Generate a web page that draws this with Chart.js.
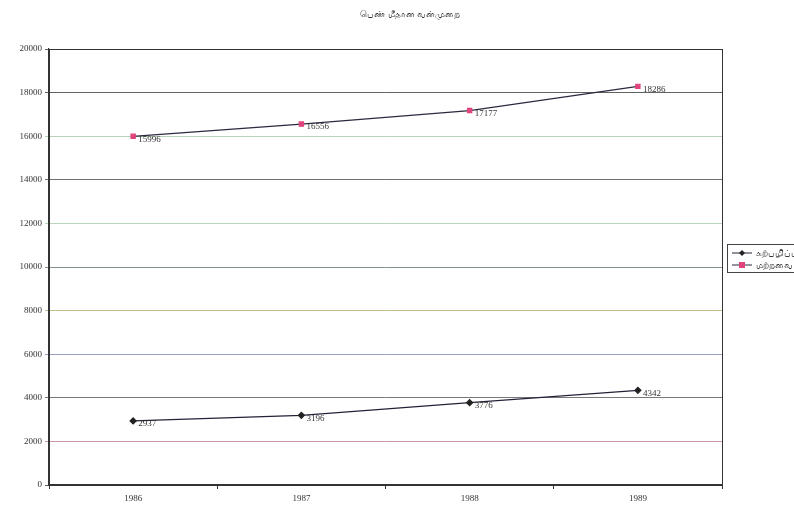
<!DOCTYPE html>
<html>
<head>
<meta charset="utf-8">
<script src="https://cdn.jsdelivr.net/npm/chart.js@4/dist/chart.umd.min.js"></script>
<style>
  body { margin: 0; background: #fff; }
  #wrap { width: 794px; height: 508px; }
</style>
</head>
<body>
<div id="wrap"><canvas id="lineChart"></canvas></div>
<script>
const title = "பெண் மீதான வன்முறை";
const years = ["1986", "1987", "1988", "1989"];
const seriesNames = ["கற்பழிப்பு", "மற்றவை"];
const rapeCases = [2937, 3196, 3776, 4342];
const otherCases = [15996, 16556, 17177, 18286];
const yTicks = [0, 2000, 4000, 6000, 8000, 10000, 12000, 14000, 16000, 18000, 20000];

// scanned page: every gridline came out a slightly different tint
const gridTints = ["#333", "#c07a98", "#555", "#7e86b0", "#b0b070", "#66766a", "#a8cca8", "#4a4a4a", "#a6c8a6", "#3a3a3a", "#333"];
const serif = "'Liberation Serif', 'DejaVu Serif', serif";

const paperPlugin = {
  id: "paper",
  afterDraw(chart) {
    const c = chart.ctx;
    const a = chart.chartArea;
    c.save();

    // frame (top + right edges)
    c.strokeStyle = "#333";
    c.lineWidth = 1;
    c.strokeRect(a.left + 0.5, a.top + 0.5, a.right - a.left, a.bottom - a.top);

    // title
    c.fillStyle = "#333";
    c.font = "9px " + serif;
    c.textAlign = "center";
    c.textBaseline = "middle";
    c.fillText(title, 410, 15);

    // value labels right of each point
    c.font = "9px " + serif;
    c.textAlign = "left";
    chart.data.datasets.forEach((ds, i) => {
      chart.getDatasetMeta(i).data.forEach((pt, j) => {
        c.fillText(String(ds.data[j]), pt.x + 5, pt.y + 3);
      });
    });

    // legend box, cut by the page edge like the scan
    const lx = 727, ly = 244;
    c.strokeStyle = "#444";
    c.strokeRect(lx + 0.5, ly + 0.5, 80, 28);
    chart.data.datasets.forEach((ds, i) => {
      const y = ly + 9 + i * 12;
      c.strokeStyle = ds.borderColor;
      c.beginPath();
      c.moveTo(lx + 5, y);
      c.lineTo(lx + 25, y);
      c.stroke();
      c.fillStyle = ds.pointBackgroundColor;
      c.beginPath();
      if (ds.pointStyle === "rectRot") {
        c.moveTo(lx + 15, y - 3);
        c.lineTo(lx + 18, y);
        c.lineTo(lx + 15, y + 3);
        c.lineTo(lx + 12, y);
      } else {
        c.rect(lx + 12, y - 3, 6, 6);
      }
      c.fill();
      c.fillStyle = "#333";
      c.font = "9px " + serif;
      c.fillText(ds.label, lx + 29, y + 1);
    });
    c.restore();
  }
};

new Chart(document.getElementById("lineChart"), {
  type: "line",
  data: {
    labels: years,
    datasets: [
      {
        label: seriesNames[0],
        data: rapeCases,
        borderColor: "#222238",
        borderWidth: 1.2,
        pointStyle: "rectRot",
        pointRadius: 3,
        pointBackgroundColor: "#222",
        pointBorderColor: "#222",
        tension: 0
      },
      {
        label: seriesNames[1],
        data: otherCases,
        borderColor: "#2a2a40",
        borderWidth: 1.2,
        pointStyle: "rect",
        pointRadius: 3,
        pointBackgroundColor: "#e0447c",
        pointBorderColor: "#e0447c",
        tension: 0
      }
    ]
  },
  options: {
    responsive: true,
    maintainAspectRatio: false,
    animation: false,
    layout: { padding: { top: 49, right: 72, left: 0, bottom: 0 } },
    plugins: {
      legend: { display: false },
      title: { display: false },
      tooltip: { enabled: false }
    },
    scales: {
      x: {
        offset: true,
        grid: {
          display: true,
          offset: true,
          drawOnChartArea: false,
          drawTicks: true,
          tickLength: 4,
          color: "#333"
        },
        border: { color: "#333", width: 1.5 },
        ticks: {
          color: "#333",
          font: { family: serif, size: 9 },
          padding: 4,
          maxRotation: 0
        },
        afterFit(s) { s.height = 23; }
      },
      y: {
        min: 0,
        max: 20000,
        afterBuildTicks(s) { s.ticks = yTicks.map(v => ({ value: v })); },
        grid: {
          color: ctx => gridTints[ctx.index] || "#555",
          lineWidth: 0.8,
          tickLength: 4
        },
        border: { color: "#333", width: 1.2 },
        ticks: {
          color: "#333",
          font: { family: serif, size: 9 },
          padding: 3,
          callback: v => String(v)
        },
        afterFit(s) { s.width = 49; }
      }
    }
  },
  plugins: [paperPlugin]
});
</script>
</body>
</html>
